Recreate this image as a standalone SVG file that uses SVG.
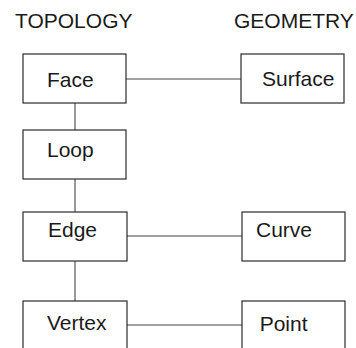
<svg xmlns="http://www.w3.org/2000/svg" width="356" height="348" viewBox="0 0 356 348">
<style>
.box{fill:#fff;stroke:#2a2a2a;stroke-width:1.2}
.lbl{font-family:"Liberation Sans",Arial,sans-serif;font-size:21px;fill:#1a1a1a}
.hdr{font-family:"Liberation Sans",Arial,sans-serif;font-size:21px;fill:#1a1a1a}
.conn{stroke:#444;stroke-width:1.1;fill:none}
</style>
<rect width="356" height="348" fill="#fff"/>
<text class="hdr" x="15" y="27.5">TOPOLOGY</text>
<text class="hdr" x="234" y="27.5">GEOMETRY</text>
<g id="connectors">
<line class="conn" x1="75" y1="103" x2="75" y2="130"/>
<line class="conn" x1="75" y1="179" x2="75" y2="212"/>
<line class="conn" x1="75" y1="261" x2="75" y2="301"/>
<line class="conn" x1="126" y1="79" x2="241" y2="79"/>
<line class="conn" x1="127" y1="236" x2="242" y2="236"/>
<line class="conn" x1="127" y1="325" x2="242" y2="325"/>
</g>
<g id="face"><rect class="box" x="23" y="54" width="103" height="49"/><text class="lbl" x="47" y="86.7">Face</text></g>
<g id="loop"><rect class="box" x="23" y="130" width="103" height="49"/><text class="lbl" x="47" y="156.7">Loop</text></g>
<g id="edge"><rect class="box" x="23" y="212" width="104" height="49"/><text class="lbl" x="48" y="236.7">Edge</text></g>
<g id="vertex"><rect class="box" x="23" y="301" width="104" height="55"/><text class="lbl" x="47" y="329.7">Vertex</text></g>
<g id="surface"><rect class="box" x="241" y="54" width="103" height="49"/><text class="lbl" x="262" y="86">Surface</text></g>
<g id="curve"><rect class="box" x="242" y="212" width="103" height="49"/><text class="lbl" x="256" y="236.7">Curve</text></g>
<g id="point"><rect class="box" x="242" y="301" width="103" height="55"/><text class="lbl" x="259.7" y="331">Point</text></g>
</svg>
